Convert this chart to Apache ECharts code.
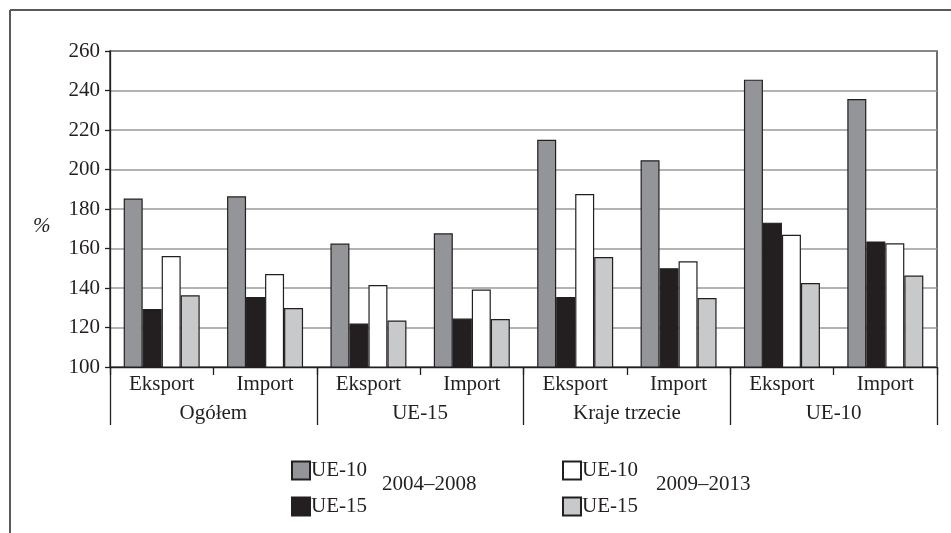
<!DOCTYPE html>
<html>
<head>
<meta charset="utf-8">
<script src="https://cdn.jsdelivr.net/npm/echarts@6/dist/echarts.min.js"></script>
<style>
html,body{margin:0;padding:0;background:#fff;}
#c{width:951px;height:533px;}
</style>
</head>
<body>
<div id="c"></div>
<script>
const flows = ['Eksport','Import','Eksport','Import','Eksport','Import','Eksport','Import'];
const groups = ['Ogółem','UE-15','Kraje trzecie','UE-10'];
const yTicks = [100,120,140,160,180,200,220,240,260];
const ue10_2004_2008 = [185.3, 186.4, 162.5, 167.7, 215.1, 204.7, 245.5, 235.7];
const ue15_2004_2008 = [129.4, 135.4, 122.0, 124.5, 135.4, 150.0, 173.1, 163.6];
const ue10_2009_2013 = [156.2, 147.1, 141.5, 139.2, 187.6, 153.5, 167.0, 162.6];
const ue15_2009_2013 = [136.3, 129.9, 123.5, 124.3, 155.7, 134.9, 142.5, 146.3];
const periods = ['2004–2008','2009–2013'];
const yName = '%';

const FONT = 'Liberation Serif';
const FS = 21;
const INK = '#231f20';
const chart = echarts.init(document.getElementById('c'), null, {renderer:'canvas'});

function bar(name, data, color){
  return {
    name: name, type:'bar', data: data, xAxisIndex:0,
    barWidth:19, barGap:'0%',
    itemStyle:{color:color, borderColor:INK, borderWidth:1.2},
    emphasis:{disabled:true}
  };
}
const names = ['UE-10 ' + periods[0], 'UE-15 ' + periods[0], 'UE-10 ' + periods[1], 'UE-15 ' + periods[1]];
const legendFmt = n => n.split(' ')[0];
const legendBase = {
  orient:'vertical', top:455, itemWidth:18, itemHeight:18, itemGap:15,
  selectedMode:false, icon:'rect',
  textStyle:{fontFamily:FONT, fontSize:FS, color:INK, padding:[2,0,0,-4]},
  formatter: legendFmt
};

chart.setOption({
  animation:false,
  backgroundColor:'#fff',
  textStyle:{fontFamily:FONT},
  grid:{left:110, right:14, top:51, bottom:166, show:true, borderColor:INK, borderWidth:1.3, backgroundColor:'transparent'},
  legend:[
    Object.assign({}, legendBase, {left:286, data:[names[0], names[1]]}),
    Object.assign({}, legendBase, {left:557, data:[names[2], names[3]]})
  ],
  xAxis:[
    {type:'category', data:flows, position:'bottom',
      axisLine:{lineStyle:{color:INK, width:1.3}},
      axisTick:{show:true, length:8, interval:0, lineStyle:{color:INK, width:1.3}},
      axisLabel:{fontFamily:FONT, fontSize:FS, color:INK, margin:7, interval:0}},
    {type:'category', data:groups, position:'bottom',
      axisLine:{show:false},
      axisTick:{show:true, length:58, interval:0, lineStyle:{color:INK, width:1.3}},
      axisLabel:{fontFamily:FONT, fontSize:FS, color:INK, margin:36, interval:0}}
  ],
  yAxis:{type:'value', min:yTicks[0], max:yTicks[yTicks.length-1], interval:20,
    axisLine:{show:true, lineStyle:{color:INK, width:1.3}},
    axisTick:{show:true, length:5, lineStyle:{color:INK, width:1.3}},
    axisLabel:{fontFamily:FONT, fontSize:FS, color:INK, margin:10},
    splitLine:{lineStyle:{color:'#9a9a9a', width:1.5}}
  },
  series:[
    bar(names[0], ue10_2004_2008, '#939598'),
    bar(names[1], ue15_2004_2008, '#231f20'),
    bar(names[2], ue10_2009_2013, '#ffffff'),
    bar(names[3], ue15_2009_2013, '#c8c9cb')
  ],
  graphic:[
    {type:'line', shape:{x1:10, y1:10, x2:951, y2:10}, style:{stroke:'#5a5a5a', lineWidth:2}},
    {type:'line', shape:{x1:10, y1:10, x2:10, y2:533}, style:{stroke:'#5a5a5a', lineWidth:2}},
    {type:'text', left:33, top:216, style:{text:yName, font:'italic 21px "Liberation Serif"', fill:INK}},
    {type:'text', left:382, top:474, style:{text:periods[0], font:'21px "Liberation Serif"', fill:INK}},
    {type:'text', left:656, top:474, style:{text:periods[1], font:'21px "Liberation Serif"', fill:INK}}
  ]
});
</script>
</body>
</html>
